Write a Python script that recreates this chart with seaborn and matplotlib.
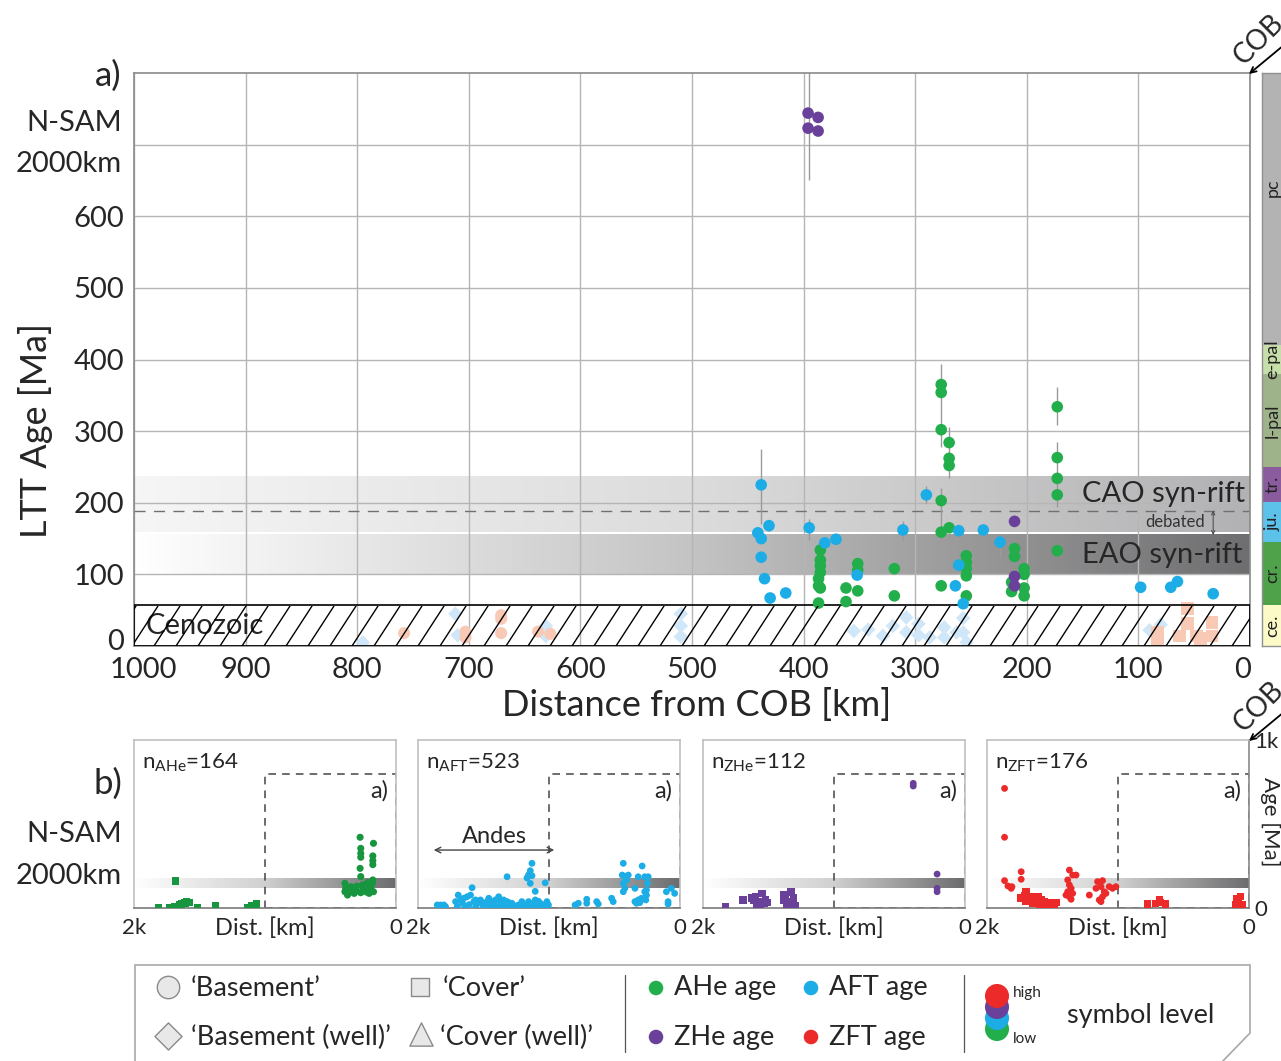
import numpy as np
import pandas as pd
import matplotlib
matplotlib.use("Agg")
import matplotlib.pyplot as plt
import seaborn as sns
from matplotlib.colors import LinearSegmentedColormap
from matplotlib.patches import Rectangle, Polygon
from matplotlib.transforms import ScaledTranslation

# ---------------- data (main panel a) ----------------
ahe_dist = [276.7, 276.7, 276.7, 276.7, 276.7, 276.7, 269.6, 269.6, 269.6, 269.6,
            172.7, 172.7, 172.7, 172.7, 172.7, 385, 385, 385, 385, 385, 386.6, 386.6, 386.6,
            362, 362, 351.5, 351.5, 351.5, 318.7, 318.7, 254.2, 254.2, 254.2, 254.2, 254.2,
            211, 211, 213.6, 213.6, 202.4, 202.4, 202.4, 202.4]
ahe_age = [365, 354, 302, 203, 159, 84, 284, 262, 252, 165,
           334, 263, 234, 211, 133, 134, 120, 112, 103, 81, 94, 84, 60,
           81, 62, 115, 106, 77, 108, 70, 126, 117, 108, 98, 70,
           136, 125, 89, 76, 108, 100, 81, 70]

aft_dist = [438, 431, 441, 438, 438, 435, 430, 416, 395, 381, 371, 352, 311, 290,
            261, 261, 264, 239, 224, 98, 71, 65, 33, 257]
aft_age = [225, 168, 158, 150, 124, 94, 67, 74, 165, 144, 149, 99, 162, 211,
           161, 113, 84, 162, 145, 82, 82, 90, 73, 59]

zhe_dist = [396, 387, 396, 387, 211, 211, 211]
zhe_age = [744, 738, 723, 719, 174, 97, 84]

# faded (Cenozoic-hatched) data
well_aft_dist = [795, 712, 710, 631, 631, 510, 510, 510, 355, 342, 329, 320, 308, 308,
                 297, 297, 287, 274, 274, 263, 257, 257, 254, 90, 80]
well_aft_age = [5, 45, 15, 28, 14, 45, 28, 13, 21, 23, 14, 28, 40, 19,
                31, 15, 12, 26, 12, 19, 39, 19, 5, 22, 30]
faded_zft_dist = [758, 703, 703, 671, 671, 671, 638, 627]
faded_zft_age = [18, 20, 12, 43, 38, 18, 20, 17]
faded_zft_cov_dist = [83, 83, 56, 56, 63, 48, 34, 34, 44]
faded_zft_cov_age = [19, 5, 52, 31, 14, 14, 33, 14, 11]

# error bars
err_dist = [395, 438, 431, 395, 276.7, 276.7, 269.6, 172.7, 172.7, 172.7, 311, 290, 261, 239, 224]
err_lo = [650, 170, 160, 148, 278, 145, 234, 308, 194, 126, 147, 199, 148, 150, 124]
err_hi = [817, 275, 175, 177, 394, 220, 306, 361, 285, 140, 175, 224, 163, 165, 150]

# stratigraphic column (age bounds on the plot scale)
strat_names = ["ce.", "cr.", "ju.", "tr.", "l-pal", "e-pal", "pc"]
strat_lo = [0, 57, 145, 201, 250, 380, 420]
strat_hi = [57, 145, 201, 250, 380, 420, 800]
strat_colors = ["#fcfac6", "#4fa24a", "#5cc2ea", "#8a5c9e", "#9fb38b", "#c6dea9", "#b3b3b3"]

x_ticks = [1000, 900, 800, 700, 600, 500, 400, 300, 200, 100, 0]
y_ticks = [0, 100, 200, 300, 400, 500, 600]

# ---------------- data (panels b) ----------------
p_ahe_far_dist = [1815, 1726, 1693, 1637, 1599, 1574, 1516, 1376, 1131, 1100, 1067, 1683, 1610, 1650]
p_ahe_far_age = [4, 4, 8, 24, 38, 34, 4, 16, 4, 12, 24, 161, 30, 20]
p_ahe_near_dist = [274, 269, 269, 269, 274, 269, 172, 177, 177, 177, 177,
                   390, 382, 390, 370, 344, 332, 319, 299, 269, 256, 243, 218, 205, 193, 180, 172,
                   385, 360, 330, 300, 250, 225, 200]
p_ahe_near_age = [421, 355, 325, 302, 236, 187, 385, 310, 282, 258, 167,
                  147, 123, 97, 77, 127, 97, 87, 103, 91, 137, 107, 151, 87, 117, 147, 97,
                  110, 90, 115, 130, 120, 95, 130]

p_aft_far_dist = [1853, 1828, 1802, 1713, 1693, 1675, 1650, 1625, 1599, 1574, 1561, 1523, 1498,
                  1473, 1460, 1435, 1409, 1384, 1371, 1346, 1320, 1308, 1283, 1232, 1207, 1181,
                  1156, 1130, 1105, 1092, 1067, 1042, 1016, 1004,
                  1587, 1320, 1130, 1143, 1156, 1130, 1168, 1143, 1105, 1029,
                  1840, 1790, 1700, 1640, 1560, 1500, 1440, 1390, 1330, 1270, 1200, 1150,
                  1090, 1050, 1010, 1660, 1610, 1530, 1480, 1420, 1360, 1300, 1250, 1120, 1080]
p_aft_far_age = [18, 18, 18, 38, 77, 48, 58, 67, 77, 38, 48, 48, 28,
                 38, 58, 38, 48, 67, 38, 48, 38, 18, 28, 18, 38, 18,
                 38, 18, 48, 18, 28, 18, 38, 18,
                 121, 186, 266, 222, 197, 192, 179, 147, 99, 150,
                 6, 8, 10, 6, 8, 10, 6, 8, 10, 6, 8, 10,
                 6, 8, 10, 28, 20, 30, 20, 25, 22, 30, 12, 30, 40]
p_aft_near_dist = [801, 776, 712, 712, 636, 624, 522, 510, 433, 441, 421, 395, 433, 408, 433, 421,
                   344, 319, 289, 269, 243, 248, 256, 256, 261, 344, 332, 319, 307, 294, 269,
                   104, 66, 41, 91, 91]
p_aft_near_age = [18, 28, 52, 28, 38, 24, 58, 38, 266, 196, 186, 196, 147, 167, 97, 117,
                  117, 186, 250, 186, 186, 147, 107, 77, 48, 38, 28, 48, 32, 58, 97,
                  97, 117, 87, 38, 24]

p_zhe_far_dist = [1827, 1693, 1625, 1612, 1599, 1587, 1574, 1561, 1549, 1536, 1523, 1511,
                  1384, 1371, 1358, 1346, 1328, 1320, 1308, 1295, 1384]
p_zhe_far_age = [8, 48, 58, 48, 67, 18, 38, 8, 87, 28, 48, 32, 77, 58, 8, 38, 97, 18, 58, 12, 48]
p_zhe_near_dist = [395, 395, 213, 213, 213]
p_zhe_near_age = [742, 726, 202, 117, 97]

p_zft_far_dist = [1866, 1866, 1739, 1739, 1866, 1840, 1815, 1810,
                  1371, 1346, 1320, 1384, 1371, 1358, 1384, 1397, 1371, 1358, 1346, 1219,
                  1168, 1156, 1118, 1130, 1105, 1118, 1143, 1092, 1067, 1042, 1016, 1130]
p_zft_far_age = [712, 421, 216, 171, 163, 131, 117, 127,
                 226, 196, 196, 167, 137, 117, 97, 77, 67, 52, 87, 77,
                 117, 157, 163, 127, 97, 67, 48, 87, 127, 117, 127, 38]
p_zft_cov_dist = [1739, 1713, 1701, 1688, 1663, 1637, 1612, 1587, 1561, 1536, 1511, 1485, 1473,
                  1574, 1625, 1700, 1650, 1600, 1550]
p_zft_cov_age = [58, 71, 97, 48, 67, 58, 67, 48, 38, 18, 28, 24, 32, 18, 38, 40, 30, 20, 30]
p_zft_near_dist = [776, 713, 682, 675, 637, 91, 78, 66, 53, 104, 71]
p_zft_near_age = [24, 28, 52, 32, 24, 58, 38, 67, 18, 18, 8]

# ---------------- style ----------------
sns.set_style("white")
plt.rcParams['font.family'] = ['Lato', 'DejaVu Sans']
plt.rcParams['mathtext.fontset'] = 'custom'
plt.rcParams['mathtext.rm'] = 'Lato'
plt.rcParams['mathtext.it'] = 'Lato:italic'

C_AHE = "#23ae4c"
C_AFT = "#1cade6"
C_ZHE = "#6a419a"
C_ZFT = "#ec2a2a"
C_AHE_S = "#17963f"

W, H = 1281, 1061
fig = plt.figure(figsize=(W / 100, H / 100), dpi=100)


def rect(x0, y0, x1, y1):
    return [x0 / W, 1 - y1 / H, (x1 - x0) / W, (y1 - y0) / H]


def shift(lbl, dx_px, dy_px):
    lbl.set_transform(lbl.get_transform() + ScaledTranslation(dx_px / 100, dy_px / 100, fig.dpi_scale_trans))


# ---------------- main panel ----------------
ax = fig.add_axes(rect(134, 73, 1250, 646))
ax.set_xlim(1000, 0)
ax.set_ylim(0, 800)
ax.set_axisbelow(True)
ax.grid(True, color="#b5b5b5", lw=1.0)
ax.set_xticks(x_ticks)
ax.set_xticklabels([str(v) for v in x_ticks])
ax.set_yticks(y_ticks + [700])
ax.set_yticklabels([str(v) for v in y_ticks] + [""])
ax.tick_params(axis='both', length=0, labelsize=21)
ax.tick_params(axis='y', pad=7)
ax.tick_params(axis='x', pad=8)
xl = ax.get_xticklabels()
shift(xl[0], 9, 0)
shift(xl[-1], -7, 0)
shift(ax.get_yticklabels()[0], 0, 7)
for s in ax.spines.values():
    s.set_color("#8a8a8a")
    s.set_linewidth(1.2)

grad = np.linspace(0, 1, 256).reshape(1, -1)
cmap_cao = LinearSegmentedColormap.from_list("cao", ["#f6f6f6", "#dcdcdc", "#b2b2b4"])
cmap_eao = LinearSegmentedColormap.from_list("eao", ["#ffffff", "#c4c4c4", "#6e6e70"])
ax.imshow(grad, extent=[1000, 0, 159, 236], cmap=cmap_cao, aspect='auto', zorder=0.2)
ax.imshow(grad, extent=[1000, 0, 100, 155], cmap=cmap_eao, aspect='auto', zorder=0.2)
ax.axhline(189, color="#707070", lw=1.0, ls=(0, (8, 6)), zorder=1)

# error bars
ax.vlines(err_dist, err_lo, err_hi, color="#9a9a9a", lw=1.0, zorder=2)

# faded Cenozoic data
sns.scatterplot(x=well_aft_dist, y=well_aft_age, ax=ax, marker='D', s=55, color="#cfe7f8",
                edgecolor='none', zorder=2.5, legend=False)
sns.scatterplot(x=faded_zft_dist, y=faded_zft_age, ax=ax, marker='o', s=75, color="#f8c9b4",
                edgecolor='none', zorder=2.5, legend=False)
sns.scatterplot(x=faded_zft_cov_dist, y=faded_zft_cov_age, ax=ax, marker='s', s=85, color="#f8c9b4",
                edgecolor='none', zorder=2.5, legend=False)
ceno = Rectangle((1000, 0), -1000, 57, facecolor='none', edgecolor='black', lw=1.2, zorder=3.2)
ax.add_patch(ceno)

# main data, symbol level: AHe < AFT < ZHe < ZFT
sns.scatterplot(x=ahe_dist, y=ahe_age, ax=ax, color=C_AHE, s=70, edgecolor='none', zorder=4, legend=False)
sns.scatterplot(x=aft_dist, y=aft_age, ax=ax, color=C_AFT, s=70, edgecolor='none', zorder=5, legend=False)
sns.scatterplot(x=zhe_dist, y=zhe_age, ax=ax, color=C_ZHE, s=70, edgecolor='none', zorder=6, legend=False)
ax.set_xlabel("")
ax.set_ylabel("")

ax.text(4.5, 212, "CAO syn-rift", ha='right', va='center', fontsize=21, zorder=7)
ax.text(7, 127, "EAO syn-rift", ha='right', va='center', fontsize=21, zorder=7)
ax.text(990, 28, "Cenozoic", ha='left', va='center', fontsize=21, zorder=7)
ax.text(40, 173, "debated", ha='right', va='center', fontsize=12, color="#333333", zorder=7)
ax.annotate("", xy=(33, 155), xytext=(33, 189),
            arrowprops=dict(arrowstyle='<->', lw=0.7, color="#444444", shrinkA=0, shrinkB=0,
                            mutation_scale=6), zorder=7)

# ---------------- stratigraphic column ----------------
axs = fig.add_axes(rect(1262, 73, 1295, 646))
axs.set_xlim(0, 1)
axs.set_ylim(0, 800)
heights = [h - l for l, h in zip(strat_lo, strat_hi)]
axs.bar([0.5] * len(heights), heights, bottom=strat_lo, width=1.0, color=strat_colors,
        edgecolor='none')
for n, l, h in zip(strat_names, strat_lo, strat_hi):
    yc = (l + h) / 2 if n != "pc" else 640
    axs.text(0.32, yc, n, rotation=90, ha='center', va='center', fontsize=13, color="#222222")
axs.set_xticks([])
axs.set_yticks([])
for s in axs.spines.values():
    s.set_color("#909090")
    s.set_linewidth(1.0)

# ---------------- small panels ----------------
panel_px = [(134, 396), (418, 680), (703, 965), (987, 1249)]
panel_n = [r"n$_{\mathrm{AHe}}$=164", r"n$_{\mathrm{AFT}}$=523", r"n$_{\mathrm{ZHe}}$=112",
           r"n$_{\mathrm{ZFT}}$=176"]
cmap_small = LinearSegmentedColormap.from_list("sm", ["#ffffff", "#d0d0d0", "#6c6c6e"])
paxes = []
for i, (x0, x1) in enumerate(panel_px):
    pa = fig.add_axes(rect(x0, 740, x1, 908))
    pa.set_xlim(2000, 0)
    pa.set_ylim(0, 1000)
    pa.imshow(grad, extent=[2000, 0, 120, 178], cmap=cmap_small, aspect='auto', zorder=0.2)
    pa.add_patch(Rectangle((1000, 0), -1000, 800, facecolor='none', edgecolor="#444444",
                           ls=(0, (5, 4)), lw=1.1, zorder=1))
    pa.set_xticks([2000, 0])
    pa.set_xticklabels(["2k", "0"])
    pa.set_yticks([])
    pa.tick_params(axis='x', length=0, labelsize=16, pad=7)
    for k, s in pa.spines.items():
        s.set_color("#c0c0c0")
        s.set_linewidth(1.2)
    pa.spines['bottom'].set_color("#7a7a7a")
    pa.text(0.5, -0.12, "Dist. [km]", transform=pa.transAxes, ha='center', va='center', fontsize=17)
    pa.text(0.03, 0.93, panel_n[i], transform=pa.transAxes, ha='left', va='top', fontsize=16)
    pa.text(0.97, 0.70, "a)", transform=pa.transAxes, ha='right', va='center', fontsize=17)
    paxes.append(pa)

p1, p2, p3, p4 = paxes
sns.scatterplot(x=p_ahe_far_dist, y=p_ahe_far_age, ax=p1, marker='s', s=28, color=C_AHE_S,
                edgecolor='none', zorder=3, legend=False)
sns.scatterplot(x=p_ahe_near_dist, y=p_ahe_near_age, ax=p1, marker='o', s=26, color=C_AHE_S,
                edgecolor='none', zorder=3, legend=False)
sns.scatterplot(x=p_aft_far_dist, y=p_aft_far_age, ax=p2, marker='o', s=24, color=C_AFT,
                edgecolor='none', zorder=3, legend=False)
sns.scatterplot(x=p_aft_near_dist, y=p_aft_near_age, ax=p2, marker='o', s=24, color=C_AFT,
                edgecolor='none', zorder=3, legend=False)
sns.scatterplot(x=p_zhe_far_dist, y=p_zhe_far_age, ax=p3, marker='s', s=30, color=C_ZHE,
                edgecolor='none', zorder=3, legend=False)
sns.scatterplot(x=p_zhe_near_dist, y=p_zhe_near_age, ax=p3, marker='o', s=24, color=C_ZHE,
                edgecolor='none', zorder=3, legend=False)
sns.scatterplot(x=p_zft_far_dist, y=p_zft_far_age, ax=p4, marker='o', s=24, color=C_ZFT,
                edgecolor='none', zorder=3, legend=False)
sns.scatterplot(x=p_zft_cov_dist, y=p_zft_cov_age, ax=p4, marker='s', s=30, color=C_ZFT,
                edgecolor='none', zorder=3, legend=False)
sns.scatterplot(x=p_zft_near_dist, y=p_zft_near_age, ax=p4, marker='s', s=28, color=C_ZFT,
                edgecolor='none', zorder=3, legend=False)
for pa in paxes:
    pa.set_xlabel("")
    pa.set_ylabel("")
p2.annotate("", xy=(1880, 345), xytext=(960, 345),
            arrowprops=dict(arrowstyle='<->', lw=1.0, color="#444444", shrinkA=0, shrinkB=0))
p2.text(1420, 428, "Andes", ha='center', va='center', fontsize=17)
p4.spines['right'].set_color("#8a8a8a")
p4.yaxis.tick_right()
p4.set_yticks([0, 1000])
p4.set_yticklabels(["0", "1k"])
p4.tick_params(axis='y', length=0, labelsize=16, pad=4)

# ---------------- annotations on an overlay canvas ----------------
cv = fig.add_axes([0, 0, 1, 1], zorder=10)
cv.set_xlim(0, W)
cv.set_ylim(H, 0)
cv.axis('off')
cv.patch.set_alpha(0)

# Cenozoic hatch (wider spacing than matplotlib's default hatch)
clip = Rectangle((134, 606), 1116, 40, transform=cv.transData, facecolor='none', edgecolor='none')
cv.add_patch(clip)
for x0 in np.arange(110, 1260, 22):
    ln, = cv.plot([x0, x0 + 26], [646, 606], color='black', lw=1.0, zorder=1)
    ln.set_clip_path(clip)

cv.text(122, 76, "a)", ha='right', va='center', fontsize=25)
cv.text(122, 123, "N-SAM", ha='right', va='center', fontsize=21)
cv.text(122, 164, "2000km", ha='right', va='center', fontsize=21)
cv.text(122, 784, "b)", ha='right', va='center', fontsize=25)
cv.text(122, 834, "N-SAM", ha='right', va='center', fontsize=21)
cv.text(122, 876, "2000km", ha='right', va='center', fontsize=21)
cv.text(36, 430, "LTT Age [Ma]", rotation=90, ha='center', va='center', fontsize=26)
cv.text(697, 705, "Distance from COB [km]", ha='center', va='center', fontsize=26)
cv.text(1270, 822, "Age [Ma]", rotation=270, ha='center', va='center', fontsize=16)

for yt in [73, 740]:
    cv.text(1259, yt - 33, "COB", rotation=45, ha='center', va='center', fontsize=20)
    cv.annotate("", xy=(1249, yt + 1), xytext=(1284, yt - 28),
                arrowprops=dict(arrowstyle='->', lw=1.3, color='black', shrinkA=0, shrinkB=0))

# legend box
cv.add_patch(Polygon([(135, 965), (1250, 965), (1250, 1033), (1221, 1063), (135, 1063)],
                     closed=True, facecolor='white', edgecolor="#a8a8a8", lw=1.2, zorder=1))
cv.plot([625, 625], [975, 1052], color="#555555", lw=0.9, zorder=2)
cv.plot([964, 964], [975, 1052], color="#555555", lw=0.9, zorder=2)
mk = dict(facecolor="#e8e8e8", edgecolor="#8a8a8a", linewidths=1.0, zorder=3)
cv.scatter([168], [987], marker='o', s=260, **mk)
cv.scatter([420], [987], marker='s', s=160, **mk)
cv.scatter([168], [1036], marker='D', s=190, **mk)
cv.scatter([421], [1034], marker='^', s=280, **mk)
fs_leg = 19.5
cv.text(191, 988, "\u2018Basement\u2019", ha='left', va='center', fontsize=fs_leg, zorder=3)
cv.text(443, 988, "\u2018Cover\u2019", ha='left', va='center', fontsize=fs_leg, zorder=3)
cv.text(191, 1037, "\u2018Basement (well)\u2019", ha='left', va='center', fontsize=fs_leg, zorder=3)
cv.text(440, 1037, "\u2018Cover (well)\u2019", ha='left', va='center', fontsize=fs_leg, zorder=3)
for (x, y, c, t) in [(656, 988, C_AHE, "AHe age"), (811, 988, C_AFT, "AFT age"),
                     (656, 1037, C_ZHE, "ZHe age"), (811, 1037, C_ZFT, "ZFT age")]:
    cv.scatter([x], [y], s=110, color=c, edgecolor='none', zorder=3)
    cv.text(x + 18, y, t, ha='left', va='center', fontsize=fs_leg, zorder=3)
for (y, c, z) in [(1029, C_AHE, 3), (1018, C_AFT, 4), (1007, C_ZHE, 5), (996, C_ZFT, 6)]:
    cv.scatter([997], [y], s=300, color=c, edgecolor='none', zorder=z)
cv.text(1013, 993, "high", ha='left', va='center', fontsize=11, zorder=7)
cv.text(1013, 1039, "low", ha='left', va='center', fontsize=11, zorder=7)
cv.text(1067, 1015, "symbol level", ha='left', va='center', fontsize=fs_leg, zorder=7)

fig.savefig("out.png", dpi=100)
